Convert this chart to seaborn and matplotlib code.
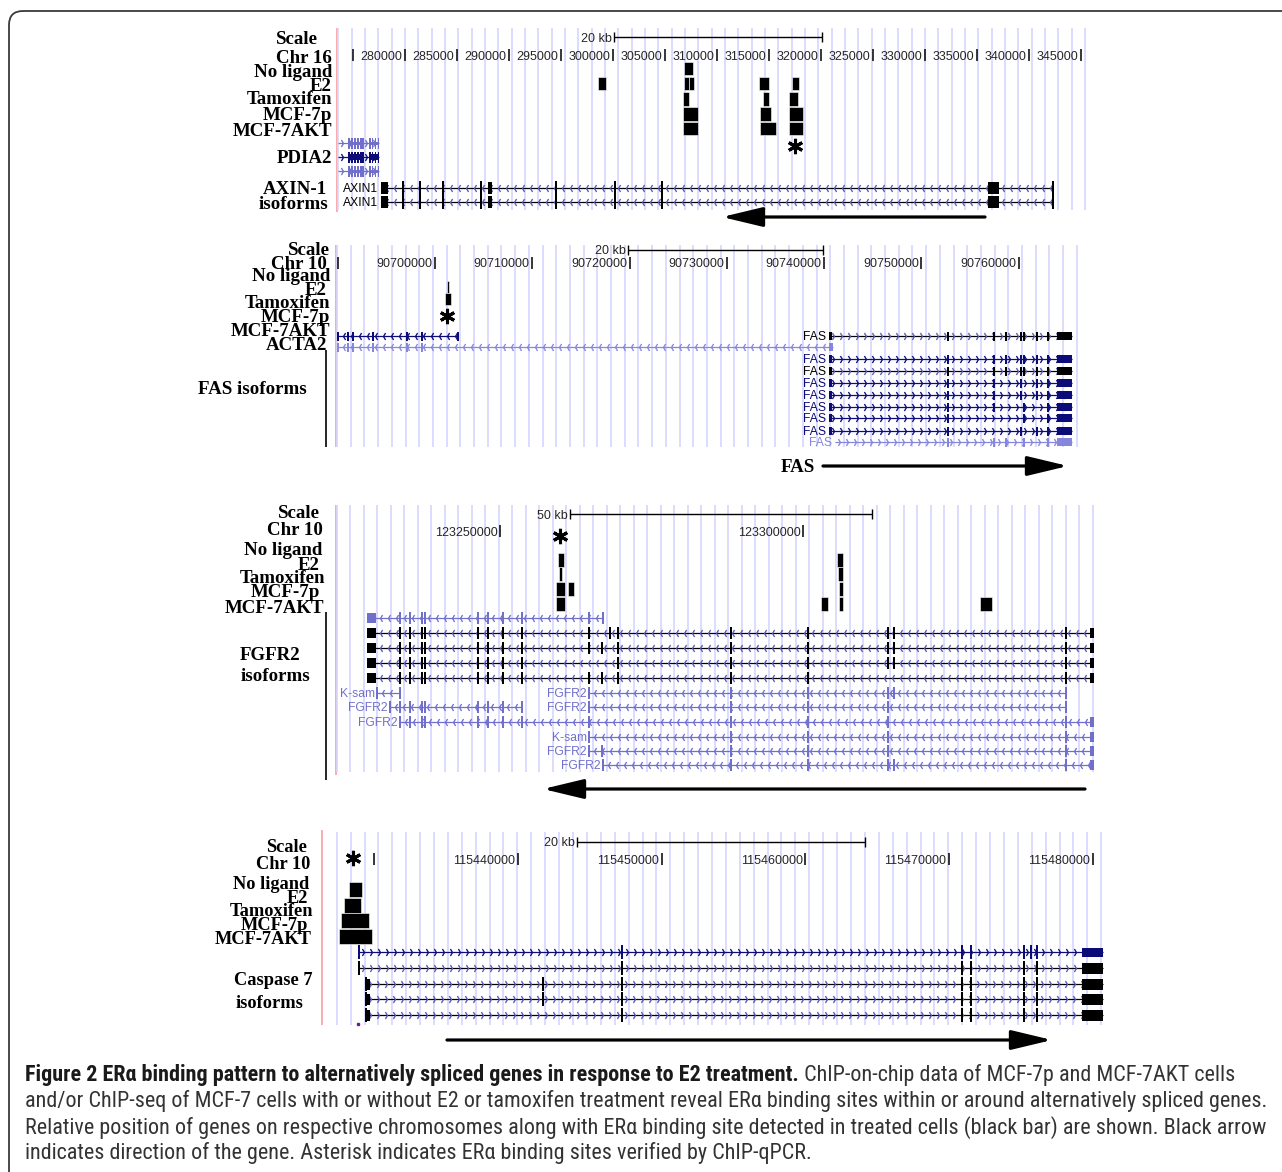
import numpy as np
import matplotlib
matplotlib.use("Agg")
import matplotlib.pyplot as plt
import seaborn as sns
from matplotlib.path import Path
from matplotlib.patches import Rectangle, FancyBboxPatch
from matplotlib import font_manager

# ============================ DATA ============================
TRACK_LABELS = ["No ligand", "E2", "Tamoxifen", "MCF-7p", "MCF-7AKT"]

# ---- Panel 1 : chr16, PDIA2 / AXIN-1 ----
P1_CHROM = "Chr 16"
P1_TICKS = [275000, 280000, 285000, 290000, 295000, 300000, 305000, 310000,
            315000, 320000, 325000, 330000, 335000, 340000, 345000]
P1_TICK_LABELS = ["", "280000", "285000", "290000", "295000", "300000", "305000",
                  "310000", "315000", "320000", "325000", "330000", "335000",
                  "340000", "345000"]
P1_SCALE = (300050, 320050, "20 kb")
P1_SITES = [(0, 306855, 307663),
            (1, 298558, 299327), (1, 306827, 307307), (1, 307307, 307788),
            (1, 314038, 315000), (1, 317211, 317884),
            (2, 306731, 307307), (2, 314423, 315000), (2, 316922, 317788),
            (3, 306731, 308173), (3, 314134, 315192), (3, 316922, 318269),
            (4, 306731, 308173), (4, 314134, 315672), (4, 316922, 318269)]
P1_ASTERISKS = [317499]
PDIA2_SPAN = (273559, 277501)
PDIA2_EXONS = [274616, 274905, 275193, 275482, 275770, 275963, 276636, 276876,
               277164, 277453]
PDIA2_CDS = [(274616, 275963), (276636, 277453)]
AXIN1_SPAN = (277693, 342306)
AXIN1_EXONS = [279808, 281443, 283654, 287308, 294519, 300192, 304711, 342306]
AXIN1_BLOCKS = [(277693, 278366), (287981, 288366), (336056, 337114)]
AXIN1_ARROW = (335768, 310480)

# ---- Panel 2 : chr10, ACTA2 / FAS ----
P2_CHROM = "Chr 10"
P2_TICKS = [90690000, 90700000, 90710000, 90720000, 90730000, 90740000,
            90750000, 90760000]
P2_TICK_LABELS = ["", "90700000", "90710000", "90720000", "90730000",
                  "90740000", "90750000", "90760000"]
P2_SCALE = (90719840, 90739886, "20 kb")
P2_SITES = [(1, 90701234, 90701439), (2, 90701028, 90701645)]
P2_ASTERISKS = [90701234]
ACTA2_SPANS = [(90689998, 90702395), (90689998, 90740914)]
ACTA2_EXONS = [90691026, 90691540, 90693596, 90697091, 90698633]
ACTA2_END_BLOCK = (90740503, 90740914)
FAS_STARTS = [90740503, 90740503, 90740503, 90740503, 90740503, 90740503,
              90740503, 90740503, 90741120]
FAS_END = 90765484
FAS_START_BLOCK = (90740503, 90740811)
FAS_END_BLOCK = (90763942, 90765484)
FAS_EXONS = [
    [90752736, 90757465, 90758699, 90760292, 90760498, 90761886, 90763016],
    [90752736, 90757465, 90758699, 90760292, 90760498, 90761886, 90763016],
    [90752736, 90757465, 90758699, 90760292, 90760498, 90761886, 90763016],
    [90752736, 90757465, 90760292, 90761886, 90763016],
    [90752736, 90757465, 90760292, 90761886, 90763016],
    [90752736, 90757465, 90760498, 90763016],
    [90752736, 90760498, 90763016],
    [90752736, 90760292, 90761886, 90763016],
    [90752736, 90757465, 90758699, 90760498, 90763016],
]
FAS_ARROW = (90739886, 90765072)

# ---- Panel 3 : chr10, FGFR2 ----
P3_CHROM = "Chr 10"
P3_TICKS = [123250000, 123300000]
P3_TICK_LABELS = ["123250000", "123300000"]
P3_SCALE = (123261550, 123311380, "50 kb")
P3_SITES = [(1, 123259570, 123260560), (1, 123305605, 123306595),
            (2, 123259735, 123260230), (2, 123305770, 123306595),
            (3, 123259240, 123260725), (3, 123261220, 123262210),
            (3, 123305935, 123306595),
            (4, 123259240, 123260725), (4, 123302965, 123304120),
            (4, 123305935, 123306595), (4, 123329200, 123331180)]
P3_ASTERISKS = [123259900]
FGFR2_LEFT = [123233500, 123235150, 123237130, 123237625, 123246370,
              123248020, 123250495, 123253630]
FGFR2_START_BLOCK = (123228055, 123229540)
FGFR2_END_BLOCK = (123347350, 123348010)
# (row, label, start, end, exons)
FGFR2_ISOFORMS = [
    (0, "", 123228055, 123266995, FGFR2_LEFT + [123264685, 123266995]),
    (1, "", 123228055, 123347845, FGFR2_LEFT + [123264685, 123268150, 123269470,
                                               123288115, 123300820, 123314020,
                                               123315010, 123343390]),
    (2, "", 123228055, 123347845, FGFR2_LEFT + [123264685, 123266830, 123269470,
                                               123288115, 123300820, 123314020,
                                               123315010, 123343390]),
    (3, "", 123228055, 123347845, FGFR2_LEFT + [123269470, 123288115, 123300820,
                                               123314020, 123315010, 123343390]),
    (4, "", 123228055, 123347845, FGFR2_LEFT + [123264685, 123266830, 123269470,
                                               123288115, 123300820, 123343390]),
    (5, "K-sam", 123229705, 123233500, [123229705, 123233500]),
    (5, "FGFR2", 123264685, 123343390, [123264685, 123288115, 123300820,
                                        123314020, 123315010, 123343390]),
    (6, "FGFR2", 123231850, 123253630, [123231850] + FGFR2_LEFT),
    (6, "FGFR2", 123264685, 123343390, [123264685, 123288115, 123300820,
                                        123314020, 123343390]),
    (7, "FGFR2", 123233500, 123347845, FGFR2_LEFT + [123264685, 123288115,
                                                    123300820, 123314020,
                                                    123343390]),
    (8, "K-sam", 123264685, 123347845, [123264685, 123288115, 123300820,
                                        123314020, 123343390]),
    (9, "FGFR2", 123264685, 123347845, [123264685, 123266830, 123288115,
                                        123300820, 123314020, 123343390]),
    (10, "FGFR2", 123266995, 123347845, [123266995, 123288115, 123300820,
                                         123314020, 123315010, 123343390]),
]
FGFR2_ARROW = (123346525, 123257095)

# ---- Panel 4 : chr10, Caspase 7 ----
P4_CHROM = "Chr 10"
P4_TICKS = [115430000, 115440000, 115450000, 115460000, 115470000, 115480000]
P4_TICK_LABELS = ["", "115440000", "115450000", "115460000", "115470000",
                  "115480000"]
P4_SCALE = (115444106, 115464151, "20 kb")
P4_SITES = [(1, 115428238, 115429142), (2, 115427890, 115429073),
            (3, 115427681, 115429630), (4, 115427542, 115429838)]
P4_ASTERISKS = [115428516]
CASP7_STARTS = [115428934, 115428934, 115429421, 115429421, 115429421]
CASP7_END = 115480716
CASP7_START_BLOCK = (115429421, 115429699)
CASP7_END_BLOCK = (115479254, 115480716)
CASP7_EXONS = [
    [115447238, 115470902, 115471529, 115475218, 115475705, 115476122],
    [115447238, 115470902, 115471529, 115475218, 115476122],
    [115441740, 115447238, 115470902, 115471529, 115475218, 115476122],
    [115441740, 115447238, 115470902, 115471529, 115475218, 115476122],
    [115447238, 115470902, 115471529, 115475218, 115476122],
]
CASP7_ARROW = (115435058, 115477166)

CAPTION_BOLD = ("Figure 2 ER\u03b1 binding pattern to alternatively spliced genes "
                "in response to E2 treatment.")
CAPTION_LINES = [
    " ChIP-on-chip data of MCF-7p and MCF-7AKT cells",
    "and/or ChIP-seq of MCF-7 cells with or without E2 or tamoxifen treatment "
    "reveal ER\u03b1 binding sites within or around alternatively spliced genes.",
    "Relative position of genes on respective chromosomes along with ER\u03b1 "
    "binding site detected in treated cells (black bar) are shown. Black arrow",
    "indicates direction of the gene. Asterisk indicates ER\u03b1 binding sites "
    "verified by ChIP-qPCR.",
]

# ============================ STYLE ============================
sns.set_theme(style="white")
plt.rcParams["font.family"] = ["Liberation Sans", "DejaVu Sans"]
installed = {f.name for f in font_manager.fontManager.ttflist}
CAP_FONT = next((f for f in ["Liberation Sans Narrow", "Roboto Condensed",
                             "Open Sans Condensed", "Roboto", "Liberation Sans"]
                 if f in installed), "DejaVu Sans")
SERIF = ["Liberation Serif", "DejaVu Serif"]
SANS = ["Liberation Sans", "DejaVu Sans"]

BLACK = "#000000"
NAVY = "#0c0c78"
LIGHT = "#7070cc"
CHEV_ON_BLACK = "#5858b8"
GRID = "#d6d6ff"
PINK = "#f6a6a6"

W, H = 1282, 1172
fig = plt.figure(figsize=(W / 100, H / 100), dpi=100)
fig.patch.set_facecolor("white")
bg = fig.add_axes([0, 0, 1, 1])
bg.set_xlim(0, W)
bg.set_ylim(H, 0)
bg.axis("off")
bg.set_zorder(0)

CHEV_L = Path([(0.6, 1), (0, 0), (0.6, -1)], [Path.MOVETO, Path.LINETO, Path.LINETO])
CHEV_R = Path([(-0.6, 1), (0, 0), (-0.6, -1)], [Path.MOVETO, Path.LINETO, Path.LINETO])


class Panel:
    def __init__(self, ref_bp, ref_px, bpp, x0, x1, y0, y1):
        self.ref_bp, self.ref_px, self.bpp = ref_bp, ref_px, bpp
        ax = fig.add_axes([x0 / W, 1 - y1 / H, (x1 - x0) / W, (y1 - y0) / H])
        ax.set_xlim(self.bp(x0), self.bp(x1))
        ax.set_ylim(y1, y0)
        ax.axis("off")
        ax.set_zorder(2)
        ax.patch.set_alpha(0)
        self.ax = ax

    def bp(self, px):
        return self.ref_bp + (np.asarray(px, dtype=float) - self.ref_px) * self.bpp

    def grid(self, px_start, px_step, px_end, y0, y1):
        xs = self.bp(np.arange(px_start, px_end, px_step))
        self.ax.vlines(xs, y0, y1, color=GRID, lw=1.2, zorder=0)

    def ticks(self, ticks, labels, y):
        self.ax.vlines(ticks, y - 6, y + 6, color=BLACK, lw=1.1, zorder=3)
        for t, lab in zip(ticks, labels):
            if lab:
                self.ax.text(t - 2.5 * self.bpp, y + 4.5, lab, ha="right",
                             va="baseline", fontsize=9, family=SANS, zorder=3)

    def scale(self, spec, y):
        s, e, lab = spec
        self.ax.hlines(y, s, e, color=BLACK, lw=1.0, zorder=3)
        self.ax.vlines([s, e], y - 5, y + 5, color=BLACK, lw=1.0, zorder=3)
        self.ax.text(s - 2 * self.bpp, y + 4.5, lab, ha="right", va="baseline",
                     fontsize=9, family=SANS, zorder=3)

    def sites(self, sites, rows, h):
        for tr, s, e in sites:
            self.ax.add_patch(Rectangle((s, rows[tr] - h / 2), e - s, h, fc=BLACK,
                                        ec="white", lw=0.4, zorder=6))

    def asterisks(self, xs, y):
        self.ax.plot(xs, [y] * len(xs), ls="none", marker=(6, 2, 0), ms=11,
                     mew=2.2, color=BLACK, zorder=7, clip_on=False)

    def gene(self, y, start, end, exons, color, strand, exon_h, chev=None,
             blocks=(), block_h=None, label=None, label_color=None, ex_w=2.0):
        ax = self.ax
        ax.plot([start, end], [y, y], color=color, lw=0.9,
                solid_capstyle="butt", zorder=3)
        xs = np.arange(start + 5 * self.bpp, end - 3 * self.bpp, 8 * self.bpp)
        ax.plot(xs, np.full(len(xs), y), ls="none",
                marker=CHEV_L if strand == "-" else CHEV_R, ms=5, mew=0.95,
                mec=chev or color, mfc="none", zorder=4)
        for x in exons:
            ax.add_patch(Rectangle((x - ex_w / 2 * self.bpp, y - exon_h / 2),
                                   ex_w * self.bpp, exon_h, fc=color, ec="none",
                                   zorder=5))
        for s, e in blocks:
            bh = block_h or exon_h
            ax.add_patch(Rectangle((s, y - bh / 2), e - s, bh, fc=color,
                                   ec="none", zorder=5))
        if label:
            ax.text(start - 2.5 * self.bpp, y + 4, label, ha="right",
                    va="baseline", fontsize=8.7, family=SANS,
                    color=label_color or color, zorder=5)

    def arrow(self, tail, head, y):
        self.ax.annotate("", xy=(head, y), xytext=(tail, y),
                         arrowprops=dict(arrowstyle="-|>,head_length=1.25,head_width=0.3",
                                         lw=2.3, color=BLACK, mutation_scale=20,
                                         shrinkA=0, shrinkB=0), zorder=6)


def row_label(x, y, txt, size=13.6):
    bg.text(x, y + 6, txt, ha="right", va="baseline", fontsize=size,
            family=SERIF, weight="bold", color=BLACK)


# ---------------- Panel 1 ----------------
p1 = Panel(300000, 613, 96.15, 337, 1092, 26, 226)
p1.grid(338.4, 13.33, 1089, 28, 210)
bg.vlines(337, 28, 212, color=PINK, lw=1.3)
p1.scale(P1_SCALE, 37)
p1.ticks(P1_TICKS, P1_TICK_LABELS, 55)
P1_ROWS = [68.5, 83.5, 99, 114, 128.5]
p1.sites(P1_SITES, P1_ROWS, 13.5)
p1.asterisks(P1_ASTERISKS, 146)
for y, col in zip([143, 157, 171], [LIGHT, NAVY, LIGHT]):
    p1.gene(y, PDIA2_SPAN[0], PDIA2_SPAN[1], PDIA2_EXONS, col, "+", 11,
            blocks=PDIA2_CDS, block_h=6 if col == NAVY else 3, ex_w=1.4)
for y in [188, 202]:
    p1.gene(y, AXIN1_SPAN[0], AXIN1_SPAN[1], AXIN1_EXONS, BLACK, "-", 14,
            chev=CHEV_ON_BLACK, blocks=AXIN1_BLOCKS, block_h=12, label="AXIN1")
p1.arrow(AXIN1_ARROW[0], AXIN1_ARROW[1], 217)

for txt, x, y in [("Scale", 318, 38), (P1_CHROM, 332, 57), ("No ligand", 332, 71),
                  ("E2", 332, 85), ("Tamoxifen", 332, 98), ("MCF-7p", 332, 114),
                  ("MCF-7AKT", 332, 130), ("PDIA2", 332, 157),
                  ("AXIN-1", 327, 188), ("isoforms", 328, 203)]:
    row_label(x, y, txt)

# ---------------- Panel 2 ----------------
p2 = Panel(90700000, 435, 102.8, 336, 1085, 243, 478)
p2.grid(337, 13.7, 1080, 245, 447)
bg.vlines(336, 245, 447, color=PINK, lw=1.3)
p2.scale(P2_SCALE, 250)
p2.ticks(P2_TICKS, P2_TICK_LABELS, 263)
P2_ROWS = [275.5, 287.5, 299.5, 312, 324.5]
p2.sites(P2_SITES, P2_ROWS, 12)
p2.asterisks(P2_ASTERISKS, 316)
p2.gene(336, ACTA2_SPANS[0][0], ACTA2_SPANS[0][1],
        [ACTA2_SPANS[0][0]] + ACTA2_EXONS + [ACTA2_SPANS[0][1]], NAVY, "-", 9)
p2.gene(347, ACTA2_SPANS[1][0], ACTA2_SPANS[1][1],
        [ACTA2_SPANS[1][0]] + ACTA2_EXONS, "#8686de", "-", 9,
        blocks=[ACTA2_END_BLOCK], block_h=8)
FAS_ROWS = [336, 359, 371, 383, 395, 407, 418, 431, 442]
FAS_COLS = [BLACK, NAVY, BLACK, NAVY, NAVY, NAVY, NAVY, NAVY, "#8686de"]
for y, col, st, ex in zip(FAS_ROWS, FAS_COLS, FAS_STARTS, FAS_EXONS):
    blocks = [FAS_END_BLOCK] + ([FAS_START_BLOCK] if st == FAS_START_BLOCK[0] else [])
    p2.gene(y, st, FAS_END, ex, col, "+", 9,
            chev=CHEV_ON_BLACK if col == BLACK else None,
            blocks=blocks, block_h=8, label="FAS")
p2.arrow(FAS_ARROW[0], FAS_ARROW[1], 466)
bg.vlines(326, 350, 447, color=BLACK, lw=1.2)
for txt, x, y in [("Scale", 330, 249), (P2_CHROM, 327, 263), ("No ligand", 330, 275),
                  ("E2", 327, 289), ("Tamoxifen", 330, 302), ("MCF-7p", 330, 316),
                  ("MCF-7AKT", 330, 330), ("ACTA2", 327, 344),
                  ("FAS isoforms", 307, 388), ("FAS", 815, 466)]:
    row_label(x, y, txt)

# ---------------- Panel 3 ----------------
p3 = Panel(123250000, 500, 165.0, 336, 1098, 503, 800)
p3.grid(336.5, 13.5, 1097, 505, 772)
bg.vlines(336, 505, 775, color=PINK, lw=1.3)
p3.scale(P3_SCALE, 514)
p3.ticks(P3_TICKS, P3_TICK_LABELS, 531)
P3_ROWS = [546, 560, 573.5, 588.5, 604]
p3.sites(P3_SITES, P3_ROWS, 14)
p3.asterisks(P3_ASTERISKS, 536)
FGFR2_ROWS = [618, 633, 648, 663, 678, 693, 707, 722, 737, 751, 765]
for row, lab, s, e, ex in FGFR2_ISOFORMS:
    col = BLACK if row in (1, 2, 3, 4) else LIGHT
    blocks = []
    if s == FGFR2_START_BLOCK[0]:
        blocks.append(FGFR2_START_BLOCK)
    if e == 123347845:
        blocks.append(FGFR2_END_BLOCK)
    p3.gene(FGFR2_ROWS[row], s, e, ex, col, "-", 12,
            chev=CHEV_ON_BLACK if col == BLACK else None,
            blocks=blocks, block_h=10, label=lab)
p3.arrow(FGFR2_ARROW[0], FGFR2_ARROW[1], 789)
bg.vlines(325.5, 612, 780, color=BLACK, lw=1.2)
for txt, x, y in [("Scale", 320, 512), (P3_CHROM, 323, 529), ("No ligand", 322, 549),
                  ("E2", 320, 564), ("Tamoxifen", 325, 577), ("MCF-7p", 320, 591),
                  ("MCF-7AKT", 324, 607), ("FGFR2", 300, 654),
                  ("isoforms", 310, 675)]:
    row_label(x, y, txt)

# ---------------- Panel 4 ----------------
p4 = Panel(115440000, 518, 69.6, 322, 1108, 828, 1050)
p4.grid(336.7, 13.9, 1106, 832, 1025)
bg.vlines(322, 830, 1025, color=PINK, lw=1.3)
p4.scale(P4_SCALE, 842)
p4.ticks(P4_TICKS, P4_TICK_LABELS, 859)
P4_ROWS = [875, 889.5, 905, 920.5, 936]
p4.sites(P4_SITES, P4_ROWS, 15)
p4.asterisks(P4_ASTERISKS, 858)
CASP7_ROWS = [952, 968, 984, 999, 1015]
for i, (y, st, ex) in enumerate(zip(CASP7_ROWS, CASP7_STARTS, CASP7_EXONS)):
    col = NAVY if i == 0 else BLACK
    blocks = [CASP7_END_BLOCK] + ([CASP7_START_BLOCK] if st == CASP7_START_BLOCK[0] else [])
    p4.gene(y, st, CASP7_END, [st] + ex, col, "+", 14,
            chev=CHEV_ON_BLACK if col == BLACK else None,
            blocks=blocks, block_h=9 if i == 0 else 11)
p4.ax.plot([115428864], [1024], ls="none", marker="s", ms=2, color="#6a1aa8")
p4.arrow(CASP7_ARROW[0], CASP7_ARROW[1], 1040)
for txt, x, y in [("Scale", 307, 846), (P4_CHROM, 310, 863), ("No ligand", 309, 883),
                  ("E2", 308, 897), ("Tamoxifen", 313, 910), ("MCF-7p", 308, 924),
                  ("MCF-7AKT", 312, 938), ("Caspase 7", 313, 979),
                  ("isoforms", 303, 1002)]:
    row_label(x, y, txt, size=13.2)

# ---------------- Border & caption ----------------
bg.add_patch(FancyBboxPatch((9, 11), 1400, 1300,
                            boxstyle="round,pad=0,rounding_size=14",
                            fill=False, ec="#3a3a3a", lw=1.3, clip_on=True))

CAP_FAM = [CAP_FONT, "DejaVu Sans"]
probe = bg.text(25, 1101, CAPTION_LINES[1], fontsize=12, family=CAP_FAM)
fig.canvas.draw()
renderer = fig.canvas.get_renderer()
w = probe.get_window_extent(renderer).width
fs = 12 * (1262 - 25) / w
probe.remove()

x0 = 25
tb = bg.text(x0, 1081, CAPTION_BOLD, fontsize=fs, family=CAP_FAM, weight="bold",
             color="#1a1a1a", va="baseline")
fig.canvas.draw()
wb = tb.get_window_extent(renderer).width
bg.text(x0 + wb, 1081, CAPTION_LINES[0], fontsize=fs, family=CAP_FAM,
        color="#333333", va="baseline")
for txt, yb in zip(CAPTION_LINES[1:], [1107, 1134, 1159]):
    bg.text(x0, yb, txt, fontsize=fs, family=CAP_FAM, color="#333333",
            va="baseline")

fig.savefig("out.png", dpi=100, facecolor="white")
